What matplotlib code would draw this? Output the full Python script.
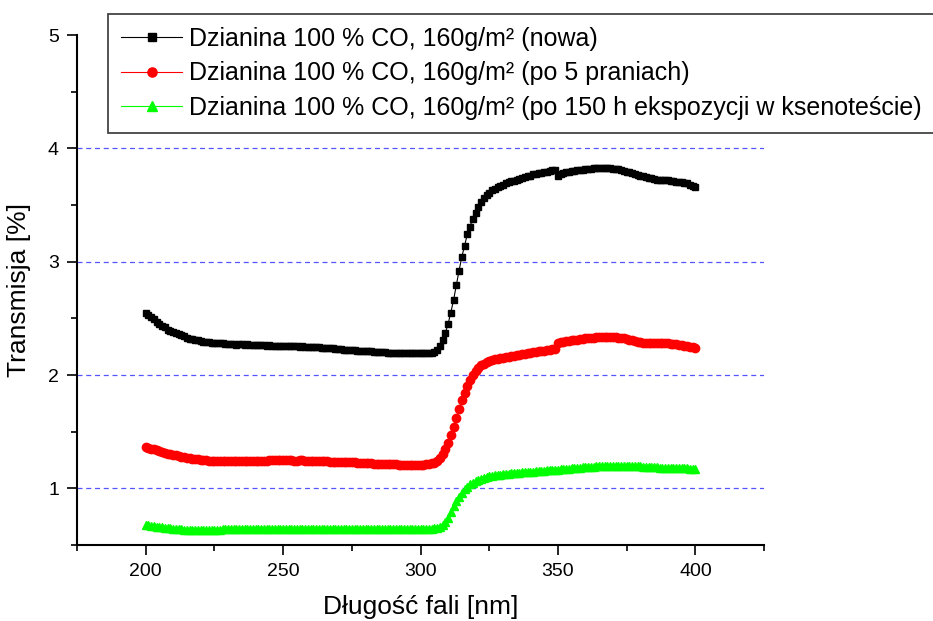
import numpy as np
import matplotlib
matplotlib.use('Agg')
import matplotlib.pyplot as plt
from matplotlib.ticker import MultipleLocator

plt.rcParams['font.family'] = ['Liberation Sans', 'DejaVu Sans']
plt.rcParams['mathtext.default'] = 'regular'
plt.rcParams['axes.linewidth'] = 1.5

# wavelength grid [nm]
wl = np.arange(200, 401, 1)

# transmission [%] - new fabric
t_new = [2.55, 2.53, 2.51, 2.49, 2.47, 2.45, 2.43, 2.42, 2.40, 2.39,
         2.38, 2.37, 2.36, 2.35, 2.34, 2.33, 2.32, 2.315, 2.31, 2.305,
         2.30, 2.295, 2.29, 2.29, 2.285, 2.285, 2.28, 2.28, 2.28, 2.275,
         2.275, 2.27, 2.272, 2.268, 2.27, 2.27, 2.265, 2.27, 2.268, 2.266,
         2.265, 2.265, 2.262, 2.265, 2.26, 2.262, 2.26, 2.258, 2.26, 2.258,
         2.255, 2.256, 2.255, 2.255, 2.252, 2.255, 2.25, 2.252, 2.25, 2.25,
         2.248, 2.248, 2.245, 2.245, 2.24, 2.24, 2.238, 2.235, 2.235, 2.232,
         2.23, 2.228, 2.225, 2.225, 2.222, 2.22, 2.218, 2.215, 2.215, 2.212,
         2.21, 2.21, 2.208, 2.205, 2.205, 2.203, 2.2, 2.2, 2.198, 2.198,
         2.196, 2.196, 2.195, 2.195, 2.193, 2.193, 2.192, 2.192, 2.19, 2.19,
         2.19, 2.19, 2.19, 2.192, 2.195, 2.20, 2.22, 2.255, 2.31, 2.37,
         2.45, 2.55, 2.66, 2.79, 2.92, 3.04, 3.14, 3.24, 3.31, 3.38,
         3.43, 3.48, 3.53, 3.56, 3.59, 3.61, 3.63, 3.645, 3.66, 3.67,
         3.68, 3.69, 3.70, 3.71, 3.715, 3.72, 3.73, 3.74, 3.745, 3.755,
         3.76, 3.77, 3.775, 3.78, 3.785, 3.79, 3.795, 3.80, 3.805, 3.81,
         3.76, 3.77, 3.78, 3.79, 3.795, 3.80, 3.80, 3.805, 3.81, 3.81,
         3.815, 3.82, 3.82, 3.825, 3.83, 3.83, 3.83, 3.83, 3.83, 3.825,
         3.82, 3.82, 3.815, 3.81, 3.80, 3.795, 3.79, 3.78, 3.77, 3.765,
         3.76, 3.755, 3.75, 3.74, 3.735, 3.73, 3.725, 3.725, 3.72, 3.72,
         3.72, 3.715, 3.71, 3.705, 3.70, 3.70, 3.695, 3.69, 3.68, 3.67,
         3.66]

# after 5 washes
t_wash = [1.365, 1.36, 1.35, 1.345, 1.335, 1.325, 1.318, 1.31, 1.305, 1.30,
          1.295, 1.29, 1.288, 1.28, 1.275, 1.27, 1.265, 1.26, 1.258, 1.255,
          1.25, 1.248, 1.246, 1.245, 1.243, 1.243, 1.242, 1.24, 1.24, 1.239,
          1.238, 1.238, 1.237, 1.237, 1.237, 1.237, 1.237, 1.238, 1.24, 1.24,
          1.242, 1.243, 1.244, 1.245, 1.245, 1.246, 1.246, 1.247, 1.246, 1.246,
          1.246, 1.247, 1.246, 1.246, 1.245, 1.245, 1.246, 1.246, 1.245, 1.245,
          1.244, 1.243, 1.242, 1.24, 1.24, 1.238, 1.237, 1.236, 1.235, 1.234,
          1.233, 1.232, 1.232, 1.231, 1.23, 1.229, 1.228, 1.227, 1.225, 1.224,
          1.222, 1.221, 1.22, 1.219, 1.218, 1.217, 1.216, 1.215, 1.214, 1.213,
          1.212, 1.211, 1.21, 1.21, 1.209, 1.208, 1.208, 1.208, 1.208, 1.209,
          1.21, 1.21, 1.212, 1.215, 1.22, 1.225, 1.24, 1.265, 1.30, 1.35,
          1.40, 1.47, 1.545, 1.62, 1.70, 1.775, 1.84, 1.90, 1.955, 2.00,
          2.035, 2.06, 2.085, 2.10, 2.115, 2.125, 2.13, 2.138, 2.143, 2.148,
          2.152, 2.157, 2.162, 2.167, 2.172, 2.176, 2.18, 2.184, 2.188, 2.192,
          2.196, 2.20, 2.204, 2.208, 2.212, 2.215, 2.218, 2.222, 2.226, 2.23,
          2.285, 2.29, 2.295, 2.30, 2.303, 2.306, 2.31, 2.313, 2.316, 2.32,
          2.323, 2.326, 2.328, 2.33, 2.332, 2.334, 2.335, 2.336, 2.337, 2.336,
          2.335, 2.333, 2.33, 2.327, 2.323, 2.318, 2.313, 2.307, 2.30, 2.295,
          2.29, 2.286, 2.283, 2.28, 2.28, 2.28, 2.28, 2.28, 2.28, 2.28,
          2.278, 2.276, 2.274, 2.27, 2.266, 2.262, 2.258, 2.254, 2.25, 2.245,
          2.24]

# after 150 h xenotest exposure
t_xeno = [0.68, 0.675, 0.67, 0.667, 0.663, 0.66, 0.657, 0.653, 0.65, 0.647,
          0.645, 0.642, 0.64, 0.637, 0.635, 0.633, 0.632, 0.631, 0.63, 0.63,
          0.63, 0.63, 0.631, 0.632, 0.633, 0.634, 0.635, 0.636, 0.637, 0.637,
          0.638, 0.638, 0.638, 0.639, 0.639, 0.639, 0.64, 0.64, 0.64, 0.64,
          0.64, 0.641, 0.641, 0.641, 0.642, 0.642, 0.642, 0.642, 0.642, 0.642,
          0.642, 0.642, 0.642, 0.642, 0.641, 0.641, 0.641, 0.641, 0.641, 0.641,
          0.641, 0.641, 0.64, 0.64, 0.64, 0.64, 0.64, 0.64, 0.64, 0.64,
          0.64, 0.64, 0.64, 0.64, 0.639, 0.639, 0.639, 0.639, 0.639, 0.639,
          0.639, 0.639, 0.638, 0.638, 0.638, 0.638, 0.638, 0.638, 0.638, 0.638,
          0.638, 0.638, 0.638, 0.638, 0.638, 0.638, 0.638, 0.638, 0.638, 0.639,
          0.64, 0.64, 0.641, 0.642, 0.644, 0.647, 0.652, 0.66, 0.675, 0.70,
          0.74, 0.79, 0.84, 0.885, 0.925, 0.96, 0.99, 1.015, 1.035, 1.05,
          1.065, 1.075, 1.085, 1.093, 1.10, 1.105, 1.11, 1.114, 1.118, 1.121,
          1.124, 1.127, 1.13, 1.132, 1.134, 1.136, 1.138, 1.14, 1.142, 1.144,
          1.146, 1.148, 1.15, 1.152, 1.154, 1.156, 1.158, 1.16, 1.162, 1.164,
          1.166, 1.168, 1.17, 1.172, 1.174, 1.176, 1.178, 1.18, 1.182, 1.184,
          1.186, 1.188, 1.19, 1.192, 1.194, 1.195, 1.196, 1.197, 1.198, 1.199,
          1.2, 1.2, 1.2, 1.2, 1.2, 1.199, 1.198, 1.197, 1.196, 1.195,
          1.194, 1.192, 1.19, 1.188, 1.186, 1.185, 1.184, 1.183, 1.182, 1.181,
          1.18, 1.18, 1.18, 1.179, 1.178, 1.177, 1.176, 1.175, 1.174, 1.172,
          1.17]

labels = ['Dzianina 100 % CO, 160g/m² (nowa)',
          'Dzianina 100 % CO, 160g/m² (po 5 praniach)',
          'Dzianina 100 % CO, 160g/m² (po 150 h ekspozycji w ksenoteście)']

fig = plt.figure(figsize=(9.33, 6.21), dpi=100)
ax = fig.add_axes([0.0825, 0.1224, 0.7365, 0.8212])

for yv in [1, 2, 3, 4]:
    ax.axhline(yv, color='#5555ff', lw=0.9, ls=(0, (4, 3)), zorder=1)

ax.plot(wl, t_new, color='black', lw=0.8, marker='s', ms=5, mec='black', label=labels[0], zorder=3)
ax.plot(wl, t_wash, color='#ff0000', lw=0.8, marker='o', ms=6, mec='#ff0000', label=labels[1], zorder=3)
ax.plot(wl, t_xeno, color='#00ff00', lw=0.8, marker='^', ms=6, mec='#00ff00', label=labels[2], zorder=3)

ax.set_xlim(175, 425)
ax.set_ylim(0.5, 5)
ax.xaxis.set_major_locator(MultipleLocator(50))
ax.xaxis.set_minor_locator(MultipleLocator(25))
ax.yaxis.set_major_locator(MultipleLocator(1))
ax.yaxis.set_minor_locator(MultipleLocator(0.5))
ax.set_xticks([200, 250, 300, 350, 400])
ax.spines['top'].set_visible(False)
ax.spines['right'].set_visible(False)
ax.tick_params(which='major', direction='out', length=7, width=1.2, labelsize=14, pad=6)
ax.tick_params(which='minor', direction='out', length=4, width=1.2)

ax.set_xlabel('Długość fali [nm]', fontsize=19, labelpad=11)
ax.set_ylabel('Transmisja [%]', fontsize=19, labelpad=12)

leg = fig.legend(loc='upper left', bbox_to_anchor=(0.1158, 0.9775), fontsize=18,
                 numpoints=1, markerscale=1.1, handlelength=2.45, handletextpad=0.25,
                 labelspacing=0.42, borderpad=0.52, borderaxespad=0,
                 fancybox=False, framealpha=1)
leg.get_frame().set_edgecolor('#444444')
leg.get_frame().set_linewidth(1.3)

plt.savefig('out.png', dpi=100, facecolor='w')
